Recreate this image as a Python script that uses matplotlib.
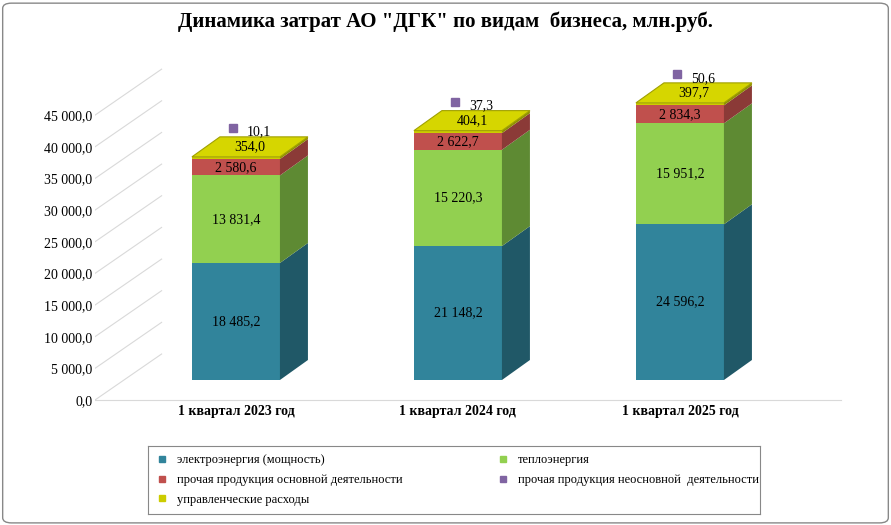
import matplotlib
matplotlib.use("Agg")
import matplotlib.pyplot as plt
import matplotlib.transforms as mtransforms
from matplotlib.patches import Polygon, FancyBboxPatch
from matplotlib.lines import Line2D

categories = ["1 квартал 2023 год", "1 квартал 2024 год", "1 квартал 2025 год"]
electro = [18485.2, 21148.2, 24596.2]
heat = [13831.4, 15220.3, 15951.2]
other_main = [2580.6, 2622.7, 2834.3]
mgmt = [354.0, 404.1, 397.7]
other_non = [10.1, 37.3, 50.6]
yticks = list(range(0, 45001, 5000))

names = ["электроэнергия (мощность)", "теплоэнергия",
         "прочая продукция основной деятельности",
         "прочая продукция неосновной  деятельности", "управленческие расходы"]

def fmt(v):
    return f"{v:,.1f}".replace(",", " ").replace(".", ",")

plt.rcParams["font.family"] = "Liberation Serif"
W, H = 891, 525
fig = plt.figure(figsize=(W/100, H/100), dpi=100)
fig.patches.append(FancyBboxPatch((0.003, 0.004), 0.994, 0.99, boxstyle="round,pad=0,rounding_size=0.01",
                                  transform=fig.transFigure, fill=False, ec="#888888", lw=1))
ymin, ymax = -7000, 50000
ppu = 6.33/1000
base = 380
ax_bot = base + (-ymin)*ppu
ax_top = base - ymax*ppu
ax = fig.add_axes([95/W, 1-ax_bot/H, (860-95)/W, (ax_bot-ax_top)/H])
ax.set_xlim(-0.761, 2.685)
ax.set_ylim(ymin, ymax)
for s in ax.spines.values():
    s.set_visible(False)
ax.set_xticks([])
ax.set_yticks(yticks)
ax.set_yticklabels([fmt(v) for v in yticks], fontsize=10)
ax.tick_params(axis="y", length=0, pad=2)
off = mtransforms.ScaledTranslation(0, -20/100, fig.dpi_scale_trans)
for lab in ax.get_yticklabels():
    lab.set_transform(lab.get_transform() + off)

ddx = 28/222
ddy = 20/ppu
w = 88/222
x0 = -0.761
for v in yticks:
    ax.plot([x0, x0+0.3], [v-ddy, v+ddy*1.3], color="#d9d9d9", lw=0.8, zorder=0)
ax.plot([x0, 2.6], [-ddy, -ddy], color="#d9d9d9", lw=0.8, zorder=0)

cols = [("#31849B", "#205867"), ("#92D050", "#5E8A33"), ("#C0504D", "#8B3A37"), ("#CCCC00", "#8F8F00")]
series = [electro, heat, other_main, mgmt]
for i in range(3):
    xf = i - ddx
    bottom = 0
    for k, ser in enumerate(series):
        v = ser[i]
        fc, sc = cols[k]
        ax.bar(xf, v, w, bottom=bottom, color=fc, zorder=3)
        r = xf + w/2
        ax.add_patch(Polygon([(r, bottom), (r, bottom+v), (r+ddx, bottom+v+ddy), (r+ddx, bottom+ddy)],
                             closed=True, fc=sc, ec="none", zorder=3))
        bottom += v
    l = xf - w/2
    r = xf + w/2
    ax.add_patch(Polygon([(l, bottom), (r, bottom), (r+ddx, bottom+ddy), (l+ddx, bottom+ddy)],
                         closed=True, fc="#D6D600", ec="#A0A000", lw=0.8, zorder=4))
    b = 0
    for k, ser in enumerate(series[:3]):
        v = ser[i]
        ax.text(xf, b + v/2, fmt(v), ha="center", va="center", fontsize=10, zorder=5)
        b += v
    ax.text(xf + ddx/2, bottom + ddy/2, fmt(mgmt[i]), ha="center", va="center", fontsize=10, zorder=5)
    ax.plot(xf - 0.015, bottom + 4500, marker="s", color="#8064A2", ms=6, zorder=5)
    ax.text(xf + 0.05, bottom + 3900, fmt(other_non[i]), ha="left", va="center", fontsize=10, zorder=5)
    ax.text(xf, -5000, categories[i], ha="center", va="center", fontsize=10,
            fontweight="bold", zorder=5, clip_on=False)

fig.text(0.5, 1-22/H, 'Динамика затрат АО "ДГК" по видам  бизнеса, млн.руб.', ha="center", va="center",
         fontsize=15, fontweight="bold")

lax = fig.add_axes([148/W, 1-514/H, (760-148)/W, (514-446)/H])
lax.set_xticks([]); lax.set_yticks([])
for s in lax.spines.values():
    s.set_color("#888888")
mk = lambda c: Line2D([], [], marker="s", ls="none", color=c, ms=5)
handles = [mk("#31849B"), mk("#C0504D"), mk("#CCCC00"), mk("#92D050"), mk("#8064A2")]
labels = [names[0], names[2], names[4], names[1], names[3]]
lax.legend(handles, labels, ncol=2, loc="center", frameon=False, fontsize=9,
           handletextpad=0.2, columnspacing=7, labelspacing=0.6, bbox_to_anchor=(0.5, 0.5))
fig.savefig("out.png", dpi=100)
